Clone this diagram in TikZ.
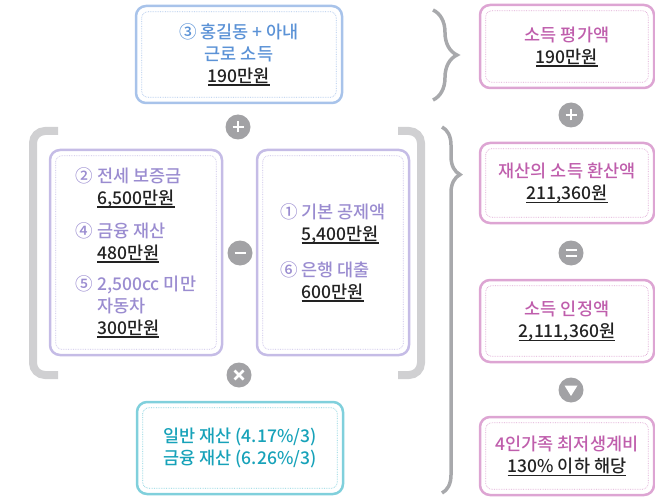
\documentclass[tikz,border=0pt]{standalone}
\usepackage{fontspec}
\setmainfont{Noto Sans CJK KR}[UprightFont=* Medium]
\usetikzlibrary{decorations.pathreplacing}

\definecolor{bluetx}{HTML}{5B92D6}
\definecolor{bluebd}{HTML}{A8C3EA}
\definecolor{purptx}{HTML}{9A8CD0}
\definecolor{purpbd}{HTML}{C5BCE6}
\definecolor{cyantx}{HTML}{17A2B9}
\definecolor{cyanbd}{HTML}{80D0DC}
\definecolor{magtx}{HTML}{BF5EAC}
\definecolor{magbd}{HTML}{DDA5D3}
\definecolor{valtx}{HTML}{222222}
\definecolor{opgray}{HTML}{A2A2A5}
\definecolor{brkgray}{HTML}{D0D0D2}
\definecolor{brcgray}{HTML}{A8A9AC}

\newcommand\amount[1]{{\color{valtx}\setbox0\hbox{#1}\rlap{\rule[-3.5pt]{\wd0}{1.2pt}}\box0}}

\begin{document}
\begin{tikzpicture}[x=1pt, y=1pt,
	box/.style = {draw, rounded corners=10pt, line width=2.5pt, inner sep=0pt, align=center, font=\fontsize{17.5pt}{22pt}\selectfont},
	op/.style = {circle, fill=opgray, minimum size=25pt, inner sep=0pt},
	sym/.style = {white, line width=2.6pt},
	bracket/.style = {draw=brkgray, line width=8pt, rounded corners=12pt},
	brace/.style = {draw=brcgray, line width=3.5pt, decorate}]
	\useasboundingbox (0,0) rectangle (655,-497);
	% left part
	\node[box, draw=bluebd, text=bluetx, minimum width=206pt, minimum height=97pt] (inc) at (239,-54.5) {③ 홍길동 + 아내\\근로 소득\\\amount{190만원}};
	\node[box, draw=purpbd, text=purptx, align=left, minimum width=172pt, minimum height=205pt] (asset) at (136,-252.5) {② 전세 보증금\\\phantom{② }\amount{6,500만원}\\[11pt]④ 금융 재산\\\phantom{④ }\amount{480만원}\\[9pt]⑤ 2,500cc 미만\\\phantom{⑤ }자동차\\\phantom{⑤ }\amount{300만원}};
	\node[box, draw=purpbd, text=purptx, align=left, minimum width=152pt, minimum height=205pt] (deduct) at (333,-252.5) {① 기본 공제액\\\phantom{① }\amount{5,400만원}\\[14pt]⑥ 은행 대출\\\phantom{⑥ }\amount{600만원}};
	\node[box, draw=cyanbd, text=cyantx, minimum width=206pt, minimum height=92pt] (rate) at (240,-448) {일반 재산 (4.17\%/3)\\금융 재산 (6.26\%/3)};
	% right column
	\node[box, draw=magbd, text=magtx, minimum width=174pt, minimum height=83pt] (eval) at (567,-46.5) {소득 평가액\\\amount{190만원}};
	\node[box, draw=magbd, text=magtx, minimum width=174pt, minimum height=80pt] (conv) at (567,-183) {재산의 소득 환산액\\\amount{211,360원}};
	\node[box, draw=magbd, text=magtx, minimum width=174pt, minimum height=82pt] (recog) at (567,-321) {소득 인정액\\\amount{2,111,360원}};
	\node[box, draw=magbd, text=magtx, minimum width=174pt, minimum height=78pt] (crit) at (567,-456) {4인가족 최저생계비\\\amount{130\% 이하 해당}};
	% dotted insets
	\foreach \n/\c in {inc/bluebd, asset/purpbd, deduct/purpbd, rate/cyanbd, eval/magbd, conv/magbd, recog/magbd, crit/magbd}
		\draw[\c, densely dotted, line width=0.7pt, rounded corners=6pt] ([shift={(7,-7)}]\n.north west) rectangle ([shift={(-7,7)}]\n.south east);
	% operators
	\node[op] (plusL) at (238,-127) {};
	\node[op] (minus) at (240,-253) {};
	\node[op] (times) at (239,-375) {};
	\node[op] (plusR) at (571,-115) {};
	\node[op] (equal) at (571,-253) {};
	\node[op] (down) at (571,-390) {};
	\draw[sym] (plusL.center) +(-5.5,0) -- +(5.5,0) (plusL.center) +(0,-5.5) -- +(0,5.5);
	\draw[sym] (plusR.center) +(-5.5,0) -- +(5.5,0) (plusR.center) +(0,-5.5) -- +(0,5.5);
	\draw[sym] (minus.center) +(-5.5,0) -- +(5.5,0);
	\draw[sym] (times.center) +(-4.5,-4.5) -- +(4.5,4.5) (times.center) +(-4.5,4.5) -- +(4.5,-4.5);
	\draw[sym, line width=2pt] (equal.center) +(-5.5,2.8) -- +(5.5,2.8) (equal.center) +(-5.5,-2.8) -- +(5.5,-2.8);
	\fill[white] (down.center) +(-6.5,4.5) -- +(6.5,4.5) -- +(0,-6) -- cycle;
	% brackets and braces
	\draw[bracket] (58,-131) -- (33,-131) -- (33,-375) -- (58,-375);
	\draw[bracket] (398,-131) -- (421,-131) -- (421,-375) -- (398,-375);
	\draw[brace, decoration={brace, amplitude=24pt}] (433,-10) -- (433,-100);
	\draw[brace, decoration={brace, amplitude=18pt, aspect=0.13}] (442,-127) -- (442,-493);
\end{tikzpicture}
\end{document}
